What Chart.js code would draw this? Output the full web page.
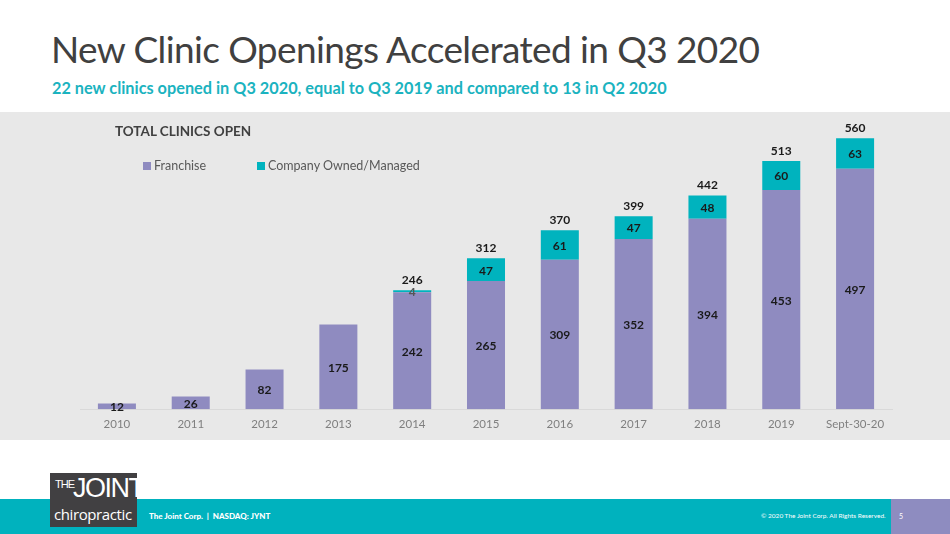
<!DOCTYPE html>
<html>
<head>
<meta charset="utf-8">
<script src="https://cdn.jsdelivr.net/npm/chart.js@4"></script>
<style>
  html, body { margin: 0; padding: 0; }
  body { width: 950px; height: 534px; position: relative; background: #fff; overflow: hidden; font-family: Lato, "Open Sans", sans-serif; }
  #title { position: absolute; left: 51px; top: 26px; font-size: 37px; font-weight: 400; color: #404040; white-space: nowrap; letter-spacing: -0.6px; }
  #subtitle { position: absolute; left: 52px; top: 78px; font-size: 16.3px; font-weight: 700; color: #1bb3bf; white-space: nowrap; }
  #panel { position: absolute; left: 0; top: 112px; width: 950px; height: 328px; background: #e8e8e8; }
  #chartWrap { position: absolute; left: 0; top: 0; width: 950px; height: 328px; }
  #chartTitle { position: absolute; left: 115px; top: 11px; font-size: 13.5px; font-weight: 700; color: #404040; }
  #legend { position: absolute; left: 143px; top: 46px; font-size: 12.5px; color: #595959; }
  .lg { position: absolute; top: 0; white-space: nowrap; }
  .sw { display: inline-block; width: 8px; height: 8px; margin-right: 3px; vertical-align: 0px; }
  #footer { position: absolute; left: 0; top: 499px; width: 950px; height: 35px; background: #00b2be; }
  #page { position: absolute; left: 891px; top: 0; width: 59px; height: 35px; background: #8e8cc0; color: #fff; font-size: 7px; }
  #page span { position: absolute; left: 8px; top: 13px; }
  #corp { position: absolute; left: 149px; top: 12px; font-size: 8px; font-weight: 900; color: #fff; white-space: nowrap; }
  #copy { position: absolute; left: 761px; top: 13px; font-size: 6.5px; color: #fff; white-space: nowrap; }
  #logo { position: absolute; left: 50px; top: 473px; width: 87px; height: 54px; background: #414042; color: #fff; z-index: 5; overflow: hidden; }
  #logo .the { position: absolute; left: 5px; top: 5px; font-size: 11px; font-family: "Liberation Sans Narrow", sans-serif; letter-spacing: -1px; }
  #logo .joint { position: absolute; left: 23px; top: 0px; font-size: 27px; font-family: "Liberation Sans Narrow", sans-serif; letter-spacing: -1.5px; }
  #logo .chiro { position: absolute; left: 4px; top: 31px; font-size: 15px; font-family: "Open Sans", sans-serif; letter-spacing: -0.4px; }
</style>
</head>
<body>
<div id="title">New Clinic Openings Accelerated in Q3 2020</div>
<div id="subtitle">22 new clinics opened in Q3 2020, equal to Q3 2019 and compared to 13 in Q2 2020</div>
<div id="panel">
  <div id="chartWrap"><canvas id="chart"></canvas></div>
  <div id="chartTitle">TOTAL CLINICS OPEN</div>
  <div id="legend">
    <div class="lg" style="left:0"><span class="sw" style="background:#8f8bc0"></span>Franchise</div>
    <div class="lg" style="left:114px"><span class="sw" style="background:#00b3be"></span>Company Owned/Managed</div>
  </div>
</div>
<div id="footer">
  <div id="corp">The Joint Corp. &nbsp;|&nbsp; NASDAQ: JYNT</div>
  <div id="copy">© 2020 The Joint Corp. All Rights Reserved.</div>
  <div id="page"><span>5</span></div>
</div>
<div id="logo"><span class="the">THE</span><span class="joint">JOINT</span><span class="chiro">chiropractic</span></div>
<script>
// categories and values
const years = ['2010', '2011', '2012', '2013', '2014', '2015', '2016', '2017', '2018', '2019', 'Sept-30-20'];
const franchise = [12, 26, 82, 175, 242, 265, 309, 352, 394, 453, 497];
const companyOwned = [0, 0, 0, 0, 4, 47, 61, 47, 48, 60, 63];

const purple = '#8f8bc0';
const teal = '#00b3be';

// draws the value inside each segment and the total above each stack
const valueLabels = {
  id: 'valueLabels',
  afterDatasetsDraw(chart) {
    const ctx = chart.ctx;
    ctx.save();
    ctx.font = 'bold 12px Lato';
    ctx.textAlign = 'center';
    ctx.textBaseline = 'middle';
    chart.data.datasets.forEach((ds, di) => {
      const meta = chart.getDatasetMeta(di);
      meta.data.forEach((bar, i) => {
        const v = ds.data[i];
        if (!v) return;
        ctx.fillStyle = v < 10 && di === 1 ? '#555' : '#1a1a1a';
        ctx.fillText(v, bar.x, (bar.y + bar.base) / 2 + 1);
      });
    });
    const top = chart.getDatasetMeta(1);
    top.data.forEach((bar, i) => {
      if (!companyOwned[i]) return;
      ctx.fillStyle = '#1a1a1a';
      ctx.fillText(franchise[i] + companyOwned[i], bar.x, bar.y - 10);
    });
    ctx.restore();
  }
};

new Chart(document.getElementById('chart'), {
  type: 'bar',
  data: {
    labels: years,
    datasets: [
      { label: 'Franchise', data: franchise, backgroundColor: purple },
      { label: 'Company Owned/Managed', data: companyOwned, backgroundColor: teal }
    ]
  },
  options: {
    responsive: true,
    maintainAspectRatio: false,
    animation: false,
    layout: { padding: { left: 80, right: 58, top: 7, bottom: 9 } },
    datasets: { bar: { categoryPercentage: 1, barPercentage: 0.515 } },
    plugins: { legend: { display: false }, tooltip: { enabled: false } },
    scales: {
      x: {
        stacked: true,
        grid: { display: false },
        border: { color: '#d9d9d9' },
        ticks: { color: '#7f7f7f', font: { family: 'Lato', size: 11.5 }, padding: 0 }
      },
      y: { stacked: true, display: false, min: 0, max: 600 }
    }
  },
  plugins: [valueLabels]
});
</script>
</body>
</html>
